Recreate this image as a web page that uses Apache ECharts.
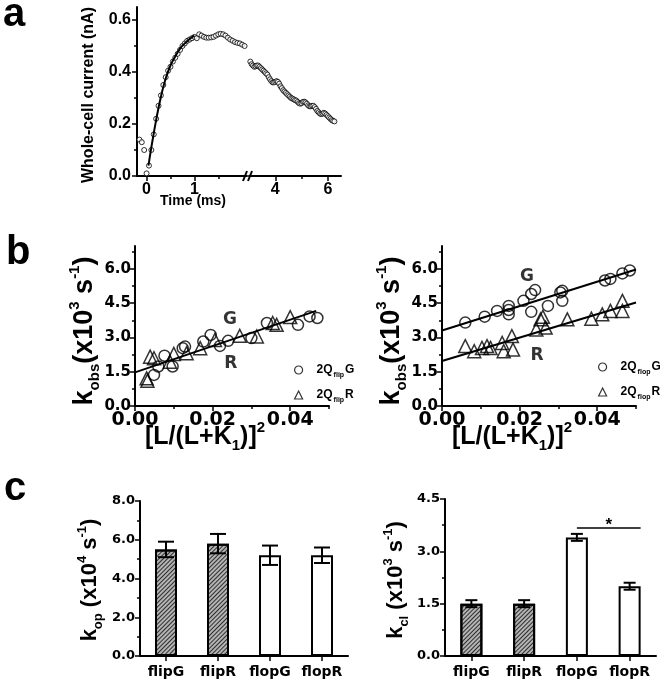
<!DOCTYPE html>
<html>
<head>
<meta charset="utf-8">
<script src="https://cdn.jsdelivr.net/npm/echarts@6.0.0/dist/echarts.min.js"></script>
<style>html,body{margin:0;padding:0;background:#fff;}#chart{width:660px;height:684px;}</style>
</head>
<body>
<div id="chart"></div>
<script>
// ---------------- Panel a : whole-cell current trace ----------------
const aSeg1Time = [-0.15,-0.1,-0.05,0,0.05,0.1,0.15,0.2,0.25,0.3,0.35,0.4,0.45,0.5,0.55,0.6,0.65,0.7,0.75,0.8,0.85,0.9,0.95,1.0,1.05,1.1,1.15,1.2,1.25,1.3,1.35,1.4,1.45,1.5,1.55,1.6,1.65,1.7,1.75,1.8,1.85,1.9,1.95,2.0,2.05];
const aSeg1Current = [0.14,0.13,0.10,0.01,0.04,0.10,0.16,0.22,0.27,0.31,0.35,0.38,0.405,0.42,0.44,0.455,0.47,0.485,0.50,0.51,0.52,0.525,0.53,0.535,0.53,0.545,0.54,0.535,0.532,0.532,0.533,0.535,0.54,0.545,0.547,0.545,0.54,0.532,0.525,0.52,0.515,0.512,0.51,0.505,0.50];
const aFitTime = [0.04,0.1,0.2,0.3,0.4,0.5,0.6,0.7,0.8,0.9,1.0];
const aFitCurrent = [0.04,0.11,0.215,0.305,0.375,0.425,0.46,0.49,0.51,0.527,0.54];
const aSeg2Time = [3.05,3.1,3.15,3.2,3.25,3.3,3.35,3.4,3.45,3.5,3.55,3.6,3.65,3.7,3.75,3.8,3.85,3.9,3.95,4.0,4.05,4.1,4.15,4.2,4.25,4.3,4.35,4.4,4.45,4.5,4.55,4.6,4.65,4.7,4.75,4.8,4.85,4.9,4.95,5.0,5.05,5.1,5.15,5.2,5.25,5.3,5.35,5.4,5.45,5.5,5.55,5.6,5.65,5.7,5.75,5.8,5.85,5.9,5.95,6.0,6.05,6.1,6.15,6.2,6.25];
const aSeg2Current = [0.44,0.43,0.425,0.42,0.422,0.425,0.425,0.42,0.415,0.41,
  0.405,0.40,0.395,0.39,0.38,0.372,0.365,0.36,0.36,0.362,
  0.365,0.362,0.355,0.345,0.338,0.33,0.325,0.32,0.315,0.31,
  0.305,0.30,0.298,0.295,0.292,0.29,0.285,0.28,0.278,0.28,
  0.285,0.286,0.283,0.278,0.272,0.268,0.268,0.27,0.27,0.265,
  0.258,0.25,0.245,0.24,0.238,0.24,0.243,0.24,0.235,0.23,
  0.225,0.22,0.215,0.212,0.21];
const aYTicks = [0, 0.2, 0.4, 0.6];
const aYMinor = [0.1, 0.3, 0.5];
const aX1Ticks = [0, 1];
const aX1Minor = [0.5, 1.5];
const aX2Ticks = [4, 6];
const aX2Minor = [5];

// ---------------- Panel b : kobs vs occupancy ----------------
const bFlipG = [[0.0049,1.36],[0.006,1.73],[0.0076,2.2],[0.0097,1.73],[0.0123,2.53],[0.0129,2.6],[0.0176,2.82],[0.0195,3.11],[0.0219,2.63],[0.024,2.85],[0.03,2.97],[0.034,3.63],[0.042,3.55],[0.045,3.92],[0.047,3.85]];
const bFlipR = [[0.003,1.21],[0.0032,1.1],[0.0039,2.16],[0.0049,2.09],[0.009,1.94],[0.01,2.28],[0.0133,2.31],[0.0168,2.53],[0.0206,2.89],[0.027,3.07],[0.0314,3.04],[0.0355,3.63],[0.0365,3.55],[0.04,3.89]];
const bFlipFit = [[0,1.47],[0.0467,4.16]];
const bFlopG = [[0.006,3.65],[0.011,3.91],[0.0142,4.16],[0.0172,4.38],[0.0172,4.01],[0.0172,4.2],[0.021,4.6],[0.023,4.9],[0.024,5.07],[0.023,4.12],[0.0273,4.38],[0.0305,4.97],[0.031,5.04],[0.031,4.6],[0.042,5.49],[0.0434,5.56],[0.0465,5.8],[0.0484,5.93]];
const bFlopR = [[0.006,2.62],[0.0083,2.4],[0.0103,2.54],[0.0116,2.62],[0.0125,2.54],[0.0155,2.76],[0.0159,2.4],[0.018,3.06],[0.0183,2.47],[0.0243,3.35],[0.0254,3.79],[0.026,3.9],[0.0267,3.43],[0.0323,3.79],[0.0385,3.82],[0.0413,4.01],[0.0434,4.16],[0.0465,4.6],[0.0465,4.16]];
const bFlopGFit = [[0,3.3],[0.05,5.97]];
const bFlopRFit = [[0,1.97],[0.05,4.53]];
const bFlipLabels = [[0.0245,3.77,'G'],[0.0247,1.84,'R']];
const bFlopLabels = [[0.0219,5.67,'G'],[0.0245,2.19,'R']];
const bYTicks = [0, 1.5, 3, 4.5, 6];
const bYMinor = [0.75, 2.25, 3.75, 5.25, 6.75];
const bXTicks = [0, 0.02, 0.04];
const bXMinor = [0.01, 0.03, 0.05];

// ---------------- Panel c : rate constants ----------------
const cCats = ['flipG', 'flipR', 'flopG', 'flopR'];
const cKop = [5.5, 5.8, 5.2, 5.2];
const cKopErr = [0.4, 0.5, 0.5, 0.4];
const cKcl = [1.5, 1.5, 3.4, 2.0];
const cKclErr = [0.1, 0.1, 0.1, 0.1];
const cSigPair = ['flopG', 'flopR'];
const cSigLevel = 3.67;

// ---------------- build ----------------
const ARIAL = '"Liberation Sans", Arial, sans-serif';
const DEJA = '"DejaVu Sans", sans-serif';
const zip = (xs, ys) => xs.map((x, i) => [x, ys[i]]);

function mainAxis(dim, gridIndex, min, max, vals, fmt, fs, fam, margin) {
  return {
    type: 'value', gridIndex, min, max, position: dim === 'x' ? 'bottom' : 'left',
    axisLine: {show: true, onZero: false, lineStyle: {color: '#000', width: 2}},
    axisTick: {show: true, customValues: vals, length: 5, lineStyle: {color: '#000', width: 1.5}},
    axisLabel: {show: true, customValues: vals, formatter: fmt, margin, color: '#000', fontSize: fs, fontWeight: 'bold', fontFamily: fam},
    splitLine: {show: false}
  };
}
function minorAxis(dim, gridIndex, min, max, vals) {
  return {
    type: 'value', gridIndex, min, max, position: dim === 'x' ? 'bottom' : 'left',
    axisLine: {show: false, onZero: false},
    axisTick: {show: true, customValues: vals, length: 3, lineStyle: {color: '#000', width: 1.5}},
    axisLabel: {show: false}, splitLine: {show: false}
  };
}
function catAxis(gridIndex) {
  return {
    type: 'category', gridIndex, data: cCats, position: 'bottom',
    axisLine: {show: true, onZero: false, lineStyle: {color: '#000', width: 2}},
    axisTick: {show: true, alignWithLabel: true, length: 5, lineStyle: {color: '#000', width: 1.5}},
    axisLabel: {color: '#000', fontSize: 14, fontWeight: 'bold', fontFamily: DEJA, margin: 9, interval: 0},
    splitLine: {show: false}
  };
}
function barYAxis(gridIndex, max, interval) {
  return {
    type: 'value', gridIndex, min: 0, max, interval, position: 'left',
    axisLine: {show: true, onZero: false, lineStyle: {color: '#000', width: 2}},
    axisTick: {show: true, length: 5, lineStyle: {color: '#000', width: 1.5}},
    minorTick: {show: true, splitNumber: 2, length: 3, lineStyle: {color: '#000', width: 1.5}},
    axisLabel: {color: '#000', fontSize: 13, fontWeight: 'bold', fontFamily: DEJA, margin: 5, formatter: v => v.toFixed(1)},
    splitLine: {show: false}, minorSplitLine: {show: false}
  };
}

const f1 = v => v.toFixed(1), f2 = v => v.toFixed(2), f0 = v => String(v);

const openCircle = {color: 'rgba(0,0,0,0)', borderColor: '#000', borderWidth: 1.5};
const hatch = {color: '#b4b4b4', borderColor: '#000', borderWidth: 2,
  decal: {symbol: 'rect', symbolSize: 1, color: 'rgba(0,0,0,0.75)', dashArrayX: [1, 0], dashArrayY: [1, 2], rotation: -Math.PI / 4}};
const plain = {color: '#fff', borderColor: '#000', borderWidth: 2};

function errSeries(xi, yi, vals, errs, w) {
  return {
    type: 'custom', xAxisIndex: xi, yAxisIndex: yi, z: 5,
    data: vals.map((v, i) => [i, v, errs[i]]),
    encode: {x: 0, y: 1},
    renderItem: (params, api) => {
      const i = api.value(0), v = api.value(1), e = api.value(2);
      const hi = api.coord([i, v + e]), lo = api.coord([i, v - e]);
      const st = {stroke: '#000', lineWidth: 2};
      return {type: 'group', children: [
        {type: 'line', shape: {x1: hi[0], y1: hi[1], x2: lo[0], y2: lo[1]}, style: st},
        {type: 'line', shape: {x1: hi[0] - w, y1: hi[1], x2: hi[0] + w, y2: hi[1]}, style: st},
        {type: 'line', shape: {x1: lo[0] - w, y1: lo[1], x2: lo[0] + w, y2: lo[1]}, style: st}
      ]};
    }
  };
}

function labelSeries(xi, yi, data) {
  return {type: 'scatter', xAxisIndex: xi, yAxisIndex: yi, symbolSize: 0.1, itemStyle: {color: 'rgba(0,0,0,0)'},
    data, silent: true, z: 6,
    label: {show: true, position: 'inside', formatter: p => p.data[2], color: '#000', fontSize: 17, fontWeight: 'bold', fontFamily: DEJA}};
}

const legendText = {color: '#000', fontSize: 12, fontWeight: 'bold', fontFamily: ARIAL, lineHeight: 18, padding: [0, 0, 0, 9],
  rich: {s: {fontSize: 7, fontWeight: 'bold', fontFamily: ARIAL, color: '#000', verticalAlign: 'bottom', lineHeight: 8, padding: [0, 1, 0, 1]}}};
const legendFmt = n => '2Q{s|' + n.slice(0, 4) + '}' + n.slice(-1);

function titleText(x, y, rot, text, fs, sub) {
  return {type: 'text', x, y, rotation: rot, silent: true,
    style: {text, fill: '#000', fontSize: fs, fontWeight: 'bold', fontFamily: ARIAL,
      align: 'center', verticalAlign: 'middle', textAlign: 'center', textVerticalAlign: 'middle',
      lineHeight: Math.round(fs * 1.3),
      rich: {
        sub: {fontSize: sub, fontWeight: 'bold', fontFamily: ARIAL, fill: '#000', verticalAlign: 'bottom', lineHeight: sub},
        sup: {fontSize: sub, fontWeight: 'bold', fontFamily: ARIAL, fill: '#000', verticalAlign: 'top', lineHeight: sub}
      }}};
}

const option = {
  animation: false,
  backgroundColor: '#fff',
  grid: [
    {left: 137, top: 7, width: 110, height: 169},
    {left: 249, top: 7, width: 92, height: 169},
    {left: 135, top: 246, width: 194, height: 160},
    {left: 442, top: 246, width: 194, height: 160},
    {left: 140, top: 501, width: 208, height: 155},
    {left: 445, top: 499, width: 211, height: 157}
  ],
  xAxis: [
    mainAxis('x', 0, -0.2, 2.1, aX1Ticks, f0, 16, ARIAL, 6),
    minorAxis('x', 0, -0.2, 2.1, aX1Minor),
    mainAxis('x', 1, 3, 6.5, aX2Ticks, f0, 16, ARIAL, 6),
    minorAxis('x', 1, 3, 6.5, aX2Minor),
    mainAxis('x', 2, 0, 0.05, bXTicks, f2, 19, DEJA, 5),
    minorAxis('x', 2, 0, 0.05, bXMinor),
    mainAxis('x', 3, 0, 0.05, bXTicks, f2, 19, DEJA, 5),
    minorAxis('x', 3, 0, 0.05, bXMinor),
    catAxis(4),
    catAxis(5)
  ],
  yAxis: [
    mainAxis('y', 0, 0, 0.65, aYTicks, f1, 16, ARIAL, 6),
    minorAxis('y', 0, 0, 0.65, aYMinor),
    {type: 'value', gridIndex: 1, min: 0, max: 0.65, show: false},
    mainAxis('y', 2, 0, 7, bYTicks, f1, 15, DEJA, 4),
    minorAxis('y', 2, 0, 7, bYMinor),
    mainAxis('y', 3, 0, 7, bYTicks, f1, 15, DEJA, 4),
    minorAxis('y', 3, 0, 7, bYMinor),
    barYAxis(4, 8, 2),
    barYAxis(5, 4.5, 1.5)
  ],
  legend: [
    {data: [{name: 'flipG', icon: 'circle'}, {name: 'flipR', icon: 'triangle'}], orient: 'vertical', left: 289, top: 356,
      itemWidth: 8, itemHeight: 8, itemGap: 7, selectedMode: false, formatter: legendFmt, textStyle: legendText,
      itemStyle: {color: 'rgba(0,0,0,0)', borderColor: '#000', borderWidth: 1.2}},
    {data: [{name: 'flopG', icon: 'circle'}, {name: 'flopR', icon: 'triangle'}], orient: 'vertical', left: 593, top: 353,
      itemWidth: 8, itemHeight: 8, itemGap: 7, selectedMode: false, formatter: legendFmt, textStyle: legendText,
      itemStyle: {color: 'rgba(0,0,0,0)', borderColor: '#000', borderWidth: 1.2}}
  ],
  series: [
    {type: 'scatter', name: 'aSeg1', xAxisIndex: 0, yAxisIndex: 0, symbol: 'circle', symbolSize: 5, z: 2,
      itemStyle: {color: '#fff', borderColor: '#000', borderWidth: 1}, data: zip(aSeg1Time, aSeg1Current)},
    {type: 'line', name: 'aFit', xAxisIndex: 0, yAxisIndex: 0, smooth: true, showSymbol: false, symbol: 'none', z: 3,
      lineStyle: {color: '#000', width: 2}, data: zip(aFitTime, aFitCurrent)},
    {type: 'scatter', name: 'aSeg2', xAxisIndex: 2, yAxisIndex: 2, symbol: 'circle', symbolSize: 5, z: 2,
      itemStyle: {color: '#fff', borderColor: '#000', borderWidth: 1}, data: zip(aSeg2Time, aSeg2Current)},

    {type: 'line', name: 'flipFit', xAxisIndex: 4, yAxisIndex: 3, showSymbol: false, symbol: 'none', lineStyle: {color: '#000', width: 2}, data: bFlipFit, z: 3},
    {type: 'scatter', name: 'flipG', xAxisIndex: 4, yAxisIndex: 3, symbol: 'circle', symbolSize: 11, itemStyle: openCircle, data: bFlipG, z: 4},
    {type: 'scatter', name: 'flipR', xAxisIndex: 4, yAxisIndex: 3, symbol: 'triangle', symbolSize: 13, itemStyle: openCircle, data: bFlipR, z: 4},
    labelSeries(4, 3, bFlipLabels),

    {type: 'line', name: 'flopGFit', xAxisIndex: 6, yAxisIndex: 5, showSymbol: false, symbol: 'none', lineStyle: {color: '#000', width: 2}, data: bFlopGFit, z: 3},
    {type: 'line', name: 'flopRFit', xAxisIndex: 6, yAxisIndex: 5, showSymbol: false, symbol: 'none', lineStyle: {color: '#000', width: 2}, data: bFlopRFit, z: 3},
    {type: 'scatter', name: 'flopG', xAxisIndex: 6, yAxisIndex: 5, symbol: 'circle', symbolSize: 11, itemStyle: openCircle, data: bFlopG, z: 4},
    {type: 'scatter', name: 'flopR', xAxisIndex: 6, yAxisIndex: 5, symbol: 'triangle', symbolSize: 13, itemStyle: openCircle, data: bFlopR, z: 4},
    labelSeries(6, 5, bFlopLabels),

    {type: 'bar', name: 'kop', xAxisIndex: 8, yAxisIndex: 7, barWidth: 22,
      data: cKop.map((v, i) => ({value: v, itemStyle: cCats[i].indexOf('flip') === 0 ? hatch : plain}))},
    errSeries(8, 7, cKop, cKopErr, 8),
    {type: 'bar', name: 'kcl', xAxisIndex: 9, yAxisIndex: 8, barWidth: 22,
      data: cKcl.map((v, i) => ({value: v, itemStyle: cCats[i].indexOf('flip') === 0 ? hatch : plain}))},
    errSeries(9, 8, cKcl, cKclErr, 6),
    {type: 'custom', name: 'sig', xAxisIndex: 9, yAxisIndex: 8, z: 6,
      data: [[cCats.indexOf(cSigPair[0]), cCats.indexOf(cSigPair[1]), cSigLevel]],
      encode: {x: 0, y: 2},
      renderItem: (params, api) => {
        const a = api.coord([api.value(0), api.value(2)]);
        const b = api.coord([api.value(1), api.value(2)]);
        const x2 = b[0] + 11;
        return {type: 'group', children: [
          {type: 'line', shape: {x1: a[0], y1: a[1], x2, y2: a[1]}, style: {stroke: '#000', lineWidth: 1.5}},
          {type: 'text', style: {text: '*', x: (a[0] + x2) / 2, y: a[1] + 6, fill: '#000', fontSize: 17, fontWeight: 'bold', fontFamily: ARIAL, align: 'center', verticalAlign: 'bottom'}}
        ]};
      }}
  ],
  graphic: [
    {type: 'text', x: 3, y: 35, silent: true, style: {text: 'a', fill: '#000', fontSize: 40, fontWeight: 'bold', fontFamily: ARIAL, align: 'left', verticalAlign: 'bottom', textAlign: 'left', textVerticalAlign: 'bottom'}},
    {type: 'text', x: 6, y: 273, silent: true, style: {text: 'b', fill: '#000', fontSize: 40, fontWeight: 'bold', fontFamily: ARIAL, align: 'left', verticalAlign: 'bottom', textAlign: 'left', textVerticalAlign: 'bottom'}},
    {type: 'text', x: 4, y: 509, silent: true, style: {text: 'c', fill: '#000', fontSize: 40, fontWeight: 'bold', fontFamily: ARIAL, align: 'left', verticalAlign: 'bottom', textAlign: 'left', textVerticalAlign: 'bottom'}},
    // axis break mark on panel a
    {type: 'line', silent: true, shape: {x1: 243, y1: 181, x2: 247, y2: 171}, style: {stroke: '#000', lineWidth: 2}},
    {type: 'line', silent: true, shape: {x1: 248, y1: 181, x2: 252, y2: 171}, style: {stroke: '#000', lineWidth: 2}},
    titleText(89, 95, Math.PI / 2, 'Whole-cell current (nA)', 16, 9),
    titleText(193, 201, 0, 'Time (ms)', 14, 9),
    titleText(85, 331, Math.PI / 2, 'k{sub|obs}(x10{sup|3} s{sup|-1})', 27, 15),
    titleText(392, 331, Math.PI / 2, 'k{sub|obs}(x10{sup|3} s{sup|-1})', 27, 15),
    titleText(205, 437, 0, '[L/(L+K{sub|1})]{sup|2}', 25, 15),
    titleText(512, 437, 0, '[L/(L+K{sub|1})]{sup|2}', 25, 15),
    titleText(90, 580, Math.PI / 2, 'k{sub|op} (x10{sup|4} s{sup|-1})', 22, 13),
    titleText(396, 580, Math.PI / 2, 'k{sub|cl} (x10{sup|3} s{sup|-1})', 22, 13)
  ]
};

const chart = echarts.init(document.getElementById('chart'), null, {renderer: 'canvas', width: 660, height: 684});
chart.setOption(option);
</script>
</body>
</html>
